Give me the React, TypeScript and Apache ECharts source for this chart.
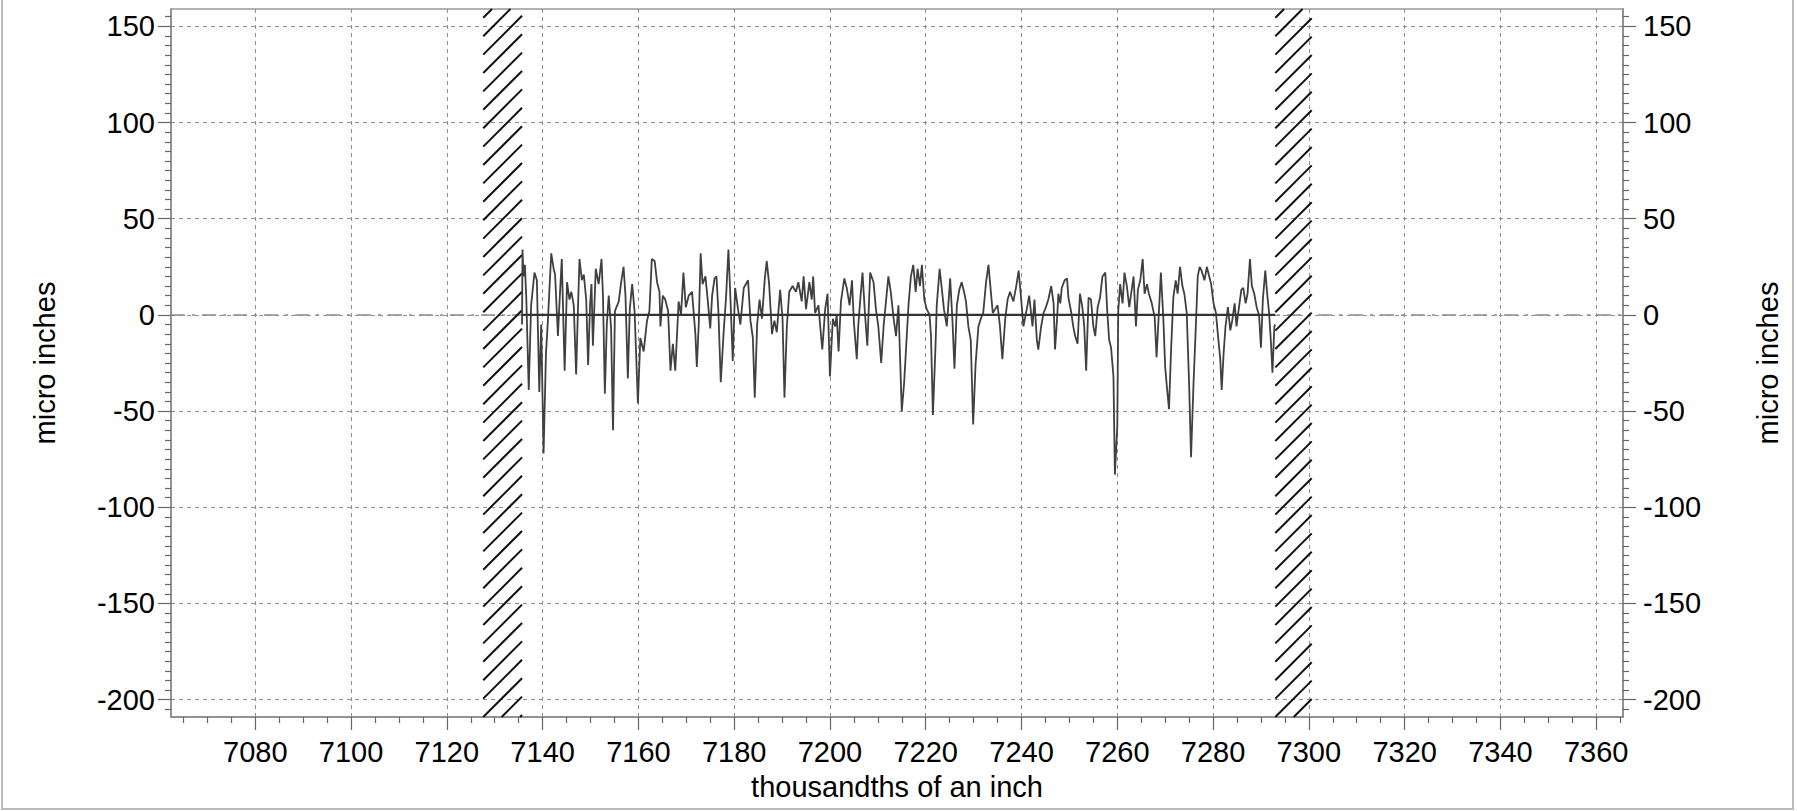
import React, { useEffect, useRef } from "react";
import * as echarts from "echarts";

// ---- axes ----
const X_MIN = 7062.4;
const X_MAX = 7365.6;
const Y_MIN = -209;
const Y_MAX = 159;
const xMajorTicks = [7080, 7100, 7120, 7140, 7160, 7180, 7200, 7220, 7240, 7260, 7280, 7300, 7320, 7340, 7360];
const yMajorTicks = [-200, -150, -100, -50, 0, 50, 100, 150];
const X_MINOR_STEP = 5;
const Y_MINOR_STEP = 5;

// ---- annotation data ----
const hatchBands = [
  [7127.6, 7135.7],
  [7293.0, 7300.6],
];
const meanLine = [
  [7135.7, 0],
  [7293.0, 0],
];
const zeroLine = [
  [X_MIN, 0],
  [X_MAX, 0],
];

// ---- profile ----
const profileX = [
  7135.7, 7135.8, 7136.0, 7136.3, 7136.6, 7137.1, 7137.6, 7138.3, 7138.8, 7139.3, 7139.7, 7140.2, 7140.7, 7141.1, 7141.8,
  7142.3, 7142.6, 7143.2, 7143.6, 7144.0, 7144.6, 7145.1, 7145.6, 7146.0, 7146.5, 7147.0, 7147.4, 7147.7, 7148.2, 7148.6,
  7149.1, 7149.5, 7149.9, 7150.2, 7150.5, 7151.1, 7151.7, 7152.3, 7152.6, 7153.0, 7153.4, 7153.8, 7154.3, 7154.7, 7155.1,
  7155.9, 7156.4, 7156.9, 7157.3, 7157.8, 7158.2, 7158.7, 7159.2, 7159.9, 7160.4, 7161.1, 7161.8, 7162.3, 7162.8, 7163.4,
  7163.9, 7164.4, 7164.6, 7165.1, 7165.6, 7166.2, 7166.7, 7167.2, 7167.7, 7168.4, 7168.9, 7169.4, 7169.9, 7170.5, 7171.2,
  7171.9, 7172.2, 7172.6, 7173.0, 7173.4, 7174.0, 7174.5, 7175.0, 7175.4, 7175.9, 7176.3, 7176.7, 7177.2, 7177.8, 7178.3,
  7178.8, 7179.2, 7179.7, 7180.2, 7180.8, 7181.3, 7182.0, 7182.9, 7183.4, 7183.9, 7184.3, 7184.8, 7185.3, 7185.8, 7186.4,
  7186.8, 7187.3, 7187.9, 7188.4,
  7188.9, 7189.6, 7190.1, 7190.5, 7191.0, 7191.5, 7192.2, 7192.9, 7193.4, 7194.1, 7194.5, 7195.0, 7195.7, 7196.2, 7196.5,
  7196.9, 7197.6, 7197.9, 7198.4, 7199.0, 7199.5, 7200.0, 7200.6, 7201.1, 7201.4, 7201.8, 7202.3, 7203.0, 7203.5, 7204.1,
  7204.6, 7205.0, 7205.6, 7205.9, 7206.3, 7206.8, 7207.3, 7207.8, 7208.4, 7209.1, 7209.6, 7210.1, 7210.7, 7211.2, 7211.7,
  7212.2, 7212.7, 7213.3, 7213.8, 7214.3, 7214.6, 7215.0, 7215.5, 7215.9, 7216.4, 7216.9, 7217.4, 7217.9, 7218.3, 7218.8,
  7219.2, 7219.7, 7220.2, 7220.8, 7221.1, 7221.5, 7222.0, 7222.3, 7222.9, 7223.3, 7223.8, 7224.4, 7225.1, 7225.6, 7226.0,
  7226.5, 7227.0, 7227.5, 7228.0, 7228.4, 7228.9, 7229.4, 7229.9, 7230.4, 7231.0, 7231.5, 7232.0, 7232.6, 7233.1, 7233.6,
  7234.0, 7234.5, 7235.0, 7235.5, 7236.0, 7236.6, 7237.1, 7237.6, 7238.3, 7238.9, 7239.4, 7239.8, 7240.4, 7241.1, 7241.6,
  7242.3, 7242.7, 7243.2, 7243.5, 7244.1, 7244.6, 7245.1, 7245.6, 7246.2, 7246.7, 7247.0, 7247.4, 7247.7, 7248.1, 7248.4,
  7249.0, 7249.5, 7249.8, 7250.4, 7250.8, 7251.2, 7251.7, 7252.2, 7252.7, 7253.1, 7253.5, 7254.0, 7254.5, 7255.0, 7255.4,
  7255.9, 7256.4, 7256.9, 7257.5, 7257.9, 7258.3, 7258.7, 7259.2, 7259.5, 7260.0, 7260.2, 7260.6, 7261.1, 7261.5, 7262.0,
  7262.5, 7262.9, 7263.4, 7263.9, 7264.3, 7264.8, 7265.3, 7265.7, 7266.2, 7266.6, 7267.2, 7267.8, 7268.2, 7268.7, 7269.1,
  7269.6, 7270.0, 7270.3, 7270.8, 7271.2, 7271.7, 7272.2, 7272.6, 7273.1, 7273.6, 7274.0, 7274.5, 7275.0, 7275.4, 7275.9,
  7276.4, 7276.8, 7277.2, 7277.6, 7278.2, 7278.7, 7279.2, 7279.6, 7280.1, 7280.6, 7281.0, 7281.5, 7281.8, 7282.2, 7282.6,
  7283.1, 7283.6, 7284.0, 7284.5, 7284.9, 7285.3, 7285.9, 7286.3, 7286.8, 7287.2, 7287.7, 7288.1, 7288.6, 7289.1, 7289.6,
  7290.0, 7290.4, 7290.9, 7291.3, 7291.7, 7292.1, 7292.4, 7292.8, 7293.0,
];
const profileY = [
  -5, 34, 20, 26, 8, -39, 5, 22, 18, -40, -5, -72, -20, -3, 32,
  24, 21, -11, 10, 29, -29, 17, 8, 12, 5, -31, 5, 29, 18, 21,
  8, -26, 5, 16, -16, 24, 16, 29, 10, -41, -5, 10, -7, -60, 2,
  7, 17, 25, 10, -33, 3, 16, 2, -46, -12, -19, -3, 2, 29, 28,
  17, 12, -6, 10, 8, 2, -29, -15, -29, 7, 0, 22, 4, 10, 12,
  -10, -27, -5, 32, 16, 20, 7, -7, 10, 19, 20, 2, -35, -9, 9,
  34, 10, -24, 14, 3, -5, 14, 18, -3, -12, -43, -5, 8, -2, 19,
  28, 16, -10, -3,
  -9, 13, -2, -43, -6, 12, 15, 12, 17, 7, 20, 3, 17, 8, 20,
  1, 5, -4, -18, 3, 11, -32, -2, -6, 0, -19, 7, 19, 14, 5,
  18, -4, -23, -6, 7, 22, 1, -16, 22, 17, 3, -6, -25, -6, 7,
  20, 12, -2, -11, 5, -19, -50, -35, -17, 5, 20, 26, 12, 24, 15,
  26, 8, 3, 0, -11, -52, -19, 5, 24, 15, 3, -6, 19, -4, -28,
  5, 13, 17, 12, 7, -6, -13, -57, -26, -6, -2, 1, 17, 26, 12,
  1, 3, 5, -6, -23, -2, 8, 12, 7, 15, 23, 12, -6, 3, 10,
  -6, 8, -13, -18, -6, 1, 4, 8, 15, 6, -18, -3, 11, 6, 14,
  18, 19, 9, 1, -6, -11, -15, 11, 4, -6, -29, 9, 8, -6, -11,
  4, 9, 20, 22, 2, -13, -17, -32, -83, -58, 2, 16, 6, 22, 15,
  4, 11, 20, -6, 13, 18, 29, 11, 16, 11, 6, -1, -22, 2, 22,
  -1, -27, -36, -49, -20, 9, 18, 11, 25, 15, 11, 1, -36, -74, -37,
  -6, 20, 25, 23, 18, 25, 20, 16, 6, 1, -10, -23, -39, -20, -6,
  4, -8, -3, 6, -6, 2, 13, 14, 6, 11, 29, 15, 11, 4, 0,
  -17, 8, 23, 11, 1, -15, -30, -6, -5,
];

const FONT = "'Liberation Sans', Arial, sans-serif";
const TEXT_COLOR = "#000";

function minorTicks(min: number, max: number, step: number, majors: number[]): number[] {
  const out: number[] = [];
  const start = Math.ceil(min / step) * step;
  for (let v = start; v <= max; v += step) {
    if (!majors.includes(v)) out.push(v);
  }
  return out;
}

export default function App() {
  const ref = useRef<HTMLDivElement>(null);

  useEffect(() => {
    if (!ref.current) return;
    const chart = echarts.init(ref.current, undefined, { renderer: "svg" });

    const xMinor = minorTicks(X_MIN, X_MAX, X_MINOR_STEP, xMajorTicks);
    const yMinor = minorTicks(Y_MIN, Y_MAX, Y_MINOR_STEP, yMajorTicks);
    const profile = profileX.map((x, i) => [x, profileY[i]]);

    const labelStyle = { color: TEXT_COLOR, fontSize: 29, fontFamily: FONT };
    const tickLine = { color: "#666", width: 1.2 };

    const renderHatch = (params: any, api: any) => {
      const xa = api.coord([api.value(0), 0])[0];
      const xb = api.coord([api.value(1), 0])[0];
      const cs = params.coordSys;
      const top = cs.y;
      const bottom = cs.y + cs.height;
      const w = xb - xa;
      const rise = w;
      const step = 18.4;
      const children: any[] = [];
      for (let n = -80; n <= 80; n++) {
        const b = bottom + n * step;
        const t0 = Math.max(0, (b - bottom) / rise);
        const t1 = Math.min(1, (b - top) / rise);
        if (t1 <= t0) continue;
        children.push({
          type: "line",
          shape: { x1: xa + w * t0, y1: b - rise * t0, x2: xa + w * t1, y2: b - rise * t1 },
          style: { stroke: "#111", lineWidth: 2 },
        });
      }
      return { type: "group", children };
    };

    const yMain = (position: "left" | "right", nameGap: number, margin: number, split: boolean) => ({
      type: "value",
      position,
      min: Y_MIN,
      max: Y_MAX,
      splitNumber: 7,
      offset: 0,
      name: "micro inches",
      nameLocation: "middle",
      nameRotate: 90,
      nameGap,
      nameTextStyle: { ...labelStyle },
      axisLine: { show: true, onZero: false, lineStyle: { color: "#888", width: 1.5 } },
      axisTick: { show: true, customValues: yMajorTicks, length: 13, lineStyle: tickLine },
      axisLabel: { show: true, customValues: yMajorTicks, margin, ...labelStyle, formatter: (v: number) => String(v) },
      splitLine: { show: split, lineStyle: { color: "#8f8f8f", type: [4, 4], width: 1 } },
    });

    const yMinorAxis = (position: "left" | "right") => ({
      type: "value",
      position,
      min: Y_MIN,
      max: Y_MAX,
      offset: 0,
      axisLine: { show: false, onZero: false },
      axisTick: { show: true, customValues: yMinor, length: 6, lineStyle: tickLine },
      axisLabel: { show: false },
      splitLine: { show: false },
    });

    chart.setOption({
      animation: false,
      backgroundColor: "#fff",
      grid: {
        left: 171,
        right: 174,
        top: 9,
        bottom: 94,
        show: true,
        borderColor: "#999",
        borderWidth: 1.5,
        containLabel: false,
        outerBoundsMode: "none",
      },
      xAxis: [
        {
          type: "value",
          position: "bottom",
          min: X_MIN,
          max: X_MAX,
          splitNumber: 15,
          name: "thousandths of an inch",
          nameLocation: "middle",
          nameGap: 55,
          nameTextStyle: { ...labelStyle },
          axisLine: { show: true, onZero: false, lineStyle: { color: "#888", width: 1.5 } },
          axisTick: { show: true, customValues: xMajorTicks, length: 13, lineStyle: tickLine },
          axisLabel: { show: true, customValues: xMajorTicks, margin: 20, ...labelStyle, formatter: (v: number) => String(v) },
          splitLine: { show: true, lineStyle: { color: "#8f8f8f", type: [4, 4], width: 1 } },
        },
        {
          type: "value",
          position: "bottom",
          min: X_MIN,
          max: X_MAX,
          offset: 0,
          axisLine: { show: false, onZero: false },
          axisTick: { show: true, customValues: xMinor, length: 6, lineStyle: tickLine },
          axisLabel: { show: false },
          splitLine: { show: false },
        },
      ],
      yAxis: [yMain("left", 112, 16, true), yMain("right", 130, 20, false), yMinorAxis("left"), yMinorAxis("right")],
      graphic: [
        {
          type: "polyline",
          shape: { points: [[2, 0], [2, 809], [1793, 809], [1793, 0]] },
          style: { stroke: "#bbb", lineWidth: 2, fill: "none" },
          silent: true,
        },
      ],
      series: [
        {
          type: "line",
          data: zeroLine,
          xAxisIndex: 0,
          yAxisIndex: 0,
          symbol: "none",
          silent: true,
          z: 1,
          lineStyle: { color: "#8a8a8a", width: 1.5, type: [14, 7, 3, 7] },
        },
        {
          type: "custom",
          data: hatchBands,
          xAxisIndex: 0,
          yAxisIndex: 0,
          renderItem: renderHatch,
          silent: true,
          clip: false,
          z: 3,
        },
        {
          type: "line",
          data: profile,
          xAxisIndex: 0,
          yAxisIndex: 0,
          symbol: "none",
          silent: true,
          z: 4,
          lineStyle: { color: "#404040", width: 1.8 },
        },
        {
          type: "line",
          data: meanLine,
          xAxisIndex: 0,
          yAxisIndex: 0,
          symbol: "none",
          silent: true,
          z: 5,
          lineStyle: { color: "#333", width: 2.2 },
        },
      ],
    });

    return () => chart.dispose();
  }, []);

  return (
    <div
      ref={ref}
      style={{ position: "absolute", left: 0, top: 0, width: 1797, height: 811, background: "#fff" }}
    />
  );
}
